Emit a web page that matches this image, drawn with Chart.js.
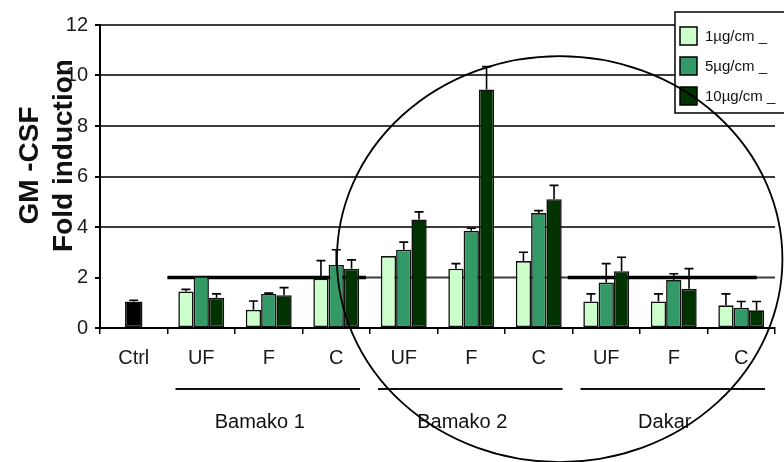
<!DOCTYPE html>
<html>
<head>
<meta charset="utf-8">
<script src="https://cdn.jsdelivr.net/npm/chart.js@4.4.1/dist/chart.umd.min.js"></script>
<style>
  html, body { margin: 0; padding: 0; background: #ffffff; }
  #wrap { width: 784px; height: 462px; }
</style>
</head>
<body>
<div id="wrap"><canvas id="c" width="784" height="462"></canvas></div>
<script>
// Category axis: control plus three samples, each tested as UF / F / C
const categories = ['Ctrl', 'UF', 'F', 'C', 'UF', 'F', 'C', 'UF', 'F', 'C'];
const groupNames = ['Bamako 1', 'Bamako 2', 'Dakar'];
const groupSpans = [[1, 3], [4, 6], [7, 9]];
const doseLabels = ['1µg/cm _', '5µg/cm _', '10µg/cm _'];
const yTicks = [0, 2, 4, 6, 8, 10, 12];

// Fold induction (mean) and upper error for each dose
const ctrlValues = [1.05, null, null, null, null, null, null, null, null, null];
const ctrlErrors = [0.05, null, null, null, null, null, null, null, null, null];
const dose1Values = [null, 1.45, 0.72, 1.95, 2.85, 2.35, 2.65, 1.05, 1.05, 0.90];
const dose1Errors = [null, 0.08, 0.35, 0.72, 0.00, 0.20, 0.35, 0.30, 0.30, 0.45];
const dose5Values = [null, 2.05, 1.35, 2.50, 3.10, 3.85, 4.55, 1.80, 1.90, 0.80];
const dose5Errors = [null, 0.00, 0.03, 0.60, 0.30, 0.10, 0.10, 0.75, 0.25, 0.25];
const dose10Values = [null, 1.20, 1.30, 2.35, 4.30, 9.45, 5.10, 2.25, 1.55, 0.70];
const dose10Errors = [null, 0.15, 0.30, 0.35, 0.30, 0.90, 0.55, 0.55, 0.80, 0.35];

// Two-fold reference level
const thresholdValue = 2;

const FONT = "'Liberation Sans', Arial, sans-serif";
Chart.defaults.font.family = FONT;
Chart.defaults.color = '#1a1a1a';

const COLORS = ['#ccffcc', '#339966', '#003300'];

// Whiskers above each bar
const errorBars = {
  id: 'errorBars',
  afterDatasetsDraw(chart) {
    const { ctx, scales: { y } } = chart;
    ctx.save();
    ctx.strokeStyle = '#000';
    ctx.lineWidth = 1.6;
    chart.data.datasets.forEach((ds, i) => {
      const meta = chart.getDatasetMeta(i);
      meta.data.forEach((bar, j) => {
        const v = ds.data[j], e = ds.errors ? ds.errors[j] : null;
        if (v == null || !e) return;
        const yTop = y.getPixelForValue(v + e);
        ctx.beginPath();
        ctx.moveTo(bar.x, bar.y);
        ctx.lineTo(bar.x, yTop);
        ctx.moveTo(bar.x - 4.5, yTop);
        ctx.lineTo(bar.x + 4.5, yTop);
        ctx.stroke();
      });
    });
    ctx.restore();
  }
};

// Reference line at 2-fold, drawn behind the bars
const thresholdLine = {
  id: 'thresholdLine',
  beforeDatasetsDraw(chart) {
    const { ctx, chartArea, scales: { x, y } } = chart;
    const py = y.getPixelForValue(thresholdValue);
    ctx.save();
    ctx.strokeStyle = '#3c3c3c';
    ctx.lineWidth = 2;
    ctx.beginPath();
    ctx.moveTo(x.getPixelForValue(0.5), py);
    ctx.lineTo(chartArea.right, py);
    ctx.stroke();
    ctx.strokeStyle = '#000';
    ctx.lineWidth = 3.5;
    [[0.5, 3.44], [6.43, 9.23]].forEach(([a, b]) => {
      ctx.beginPath();
      ctx.moveTo(x.getPixelForValue(a), py);
      ctx.lineTo(x.getPixelForValue(b), py);
      ctx.stroke();
    });
    ctx.restore();
  }
};

// Two-line rotated axis title, sample brackets and group names
const axisDecor = {
  id: 'axisDecor',
  afterDraw(chart) {
    const { ctx, chartArea, scales: { x } } = chart;
    ctx.save();
    // y title
    ctx.fillStyle = '#111';
    ctx.font = 'bold 28px ' + FONT;
    ctx.textAlign = 'center';
    ctx.textBaseline = 'alphabetic';
    const midY = (chartArea.top + chartArea.bottom) / 2;
    [['GM -CSF', 38, midY - 11], ['Fold induction', 72, midY - 21]].forEach(([t, bx, cy]) => {
      ctx.save();
      ctx.translate(bx, cy);
      ctx.rotate(-Math.PI / 2);
      ctx.fillText(t, 0, 0);
      ctx.restore();
    });
    // group brackets
    ctx.strokeStyle = '#111';
    ctx.lineWidth = 2;
    ctx.font = '20px ' + FONT;
    ctx.textBaseline = 'middle';
    groupSpans.forEach(([a, b], i) => {
      const x0 = x.getPixelForValue(a - 0.5) + 8;
      const x1 = x.getPixelForValue(b + 0.5) - 10;
      const ly = chartArea.bottom + 61;
      ctx.beginPath();
      ctx.moveTo(x0, ly);
      ctx.lineTo(x1, ly);
      ctx.stroke();
      ctx.fillText(groupNames[i], (x0 + x1) / 2 - 8, chartArea.bottom + 94);
    });
    ctx.restore();
  }
};

// Boxed legend in the upper right corner, plus the outlined region
const legendAndOutline = {
  id: 'legendAndOutline',
  afterDraw(chart) {
    const { ctx, chartArea, scales: { x, y } } = chart;
    ctx.save();
    const bx = chartArea.right - 100, by = 12;
    ctx.fillStyle = '#fff';
    ctx.fillRect(bx, by, 130, 101);
    ctx.strokeStyle = '#111';
    ctx.lineWidth = 1.6;
    ctx.strokeRect(bx, by, 130, 101);
    const rows = chart.data.datasets.filter(d => d.showInLegend);
    ctx.font = '15px ' + FONT;
    ctx.textBaseline = 'middle';
    ctx.textAlign = 'left';
    rows.forEach((d, i) => {
      const cy = by + 24 + i * 30;
      ctx.fillStyle = d.backgroundColor;
      ctx.fillRect(bx + 5, cy - 9, 17, 18);
      ctx.strokeStyle = '#000';
      ctx.lineWidth = 1.5;
      ctx.strokeRect(bx + 5, cy - 9, 17, 18);
      ctx.fillStyle = '#111';
      ctx.fillText(d.label, bx + 30, cy + 1);
    });
    // ellipse around the Bamako 2 and Dakar samples
    const cx = x.getPixelForValue(6.31), cyE = y.getPixelForValue(2.73);
    const rx = x.getPixelForValue(6.31 + 3.3) - cx;
    const ry = cyE - y.getPixelForValue(2.73 + 8.04);
    ctx.strokeStyle = '#000';
    ctx.lineWidth = 1.8;
    ctx.beginPath();
    ctx.ellipse(cx, cyE, rx, ry, 0, 0, Math.PI * 2);
    ctx.stroke();
    ctx.restore();
  }
};

const barCommon = { borderColor: '#111', borderWidth: 1.6, borderSkipped: false, categoryPercentage: 0.68 };

new Chart(document.getElementById('c'), {
  type: 'bar',
  data: {
    labels: categories,
    datasets: [
      Object.assign({ label: 'Ctrl', data: ctrlValues, errors: ctrlErrors, backgroundColor: '#000',
        grouped: false, barPercentage: 0.38, showInLegend: false }, barCommon),
      Object.assign({ label: doseLabels[0], data: dose1Values, errors: dose1Errors, backgroundColor: COLORS[0],
        barPercentage: 1, showInLegend: true }, barCommon),
      Object.assign({ label: doseLabels[1], data: dose5Values, errors: dose5Errors, backgroundColor: COLORS[1],
        barPercentage: 1, showInLegend: true }, barCommon),
      Object.assign({ label: doseLabels[2], data: dose10Values, errors: dose10Errors, backgroundColor: COLORS[2],
        barPercentage: 1, showInLegend: true }, barCommon)
    ]
  },
  options: {
    responsive: false,
    animation: false,
    devicePixelRatio: 1,
    layout: { padding: { top: 25, right: 9, left: 0, bottom: 0 } },
    plugins: { legend: { display: false }, tooltip: { enabled: false } },
    scales: {
      x: {
        offset: true,
        grid: { offset: true, drawOnChartArea: false, tickLength: 6, color: '#000', lineWidth: 1.5 },
        border: { color: '#000', width: 2 },
        ticks: { font: { size: 20 }, padding: 12, color: '#1a1a1a', maxRotation: 0 },
        afterFit(s) { s.height = 134; }
      },
      y: {
        min: 0, max: 12,
        afterBuildTicks(s) { s.ticks = yTicks.map(v => ({ value: v })); },
        ticks: { font: { size: 20 }, padding: 7, color: '#1a1a1a' },
        grid: {
          color: c => (c.tick && c.tick.value === thresholdValue) ? 'rgba(0,0,0,0)' : '#3c3c3c',
          lineWidth: 2, tickLength: 5, tickColor: '#000'
        },
        border: { color: '#000', width: 2 },
        afterFit(s) { s.width = 100; }
      }
    }
  },
  plugins: [thresholdLine, errorBars, axisDecor, legendAndOutline]
});
</script>
</body>
</html>
